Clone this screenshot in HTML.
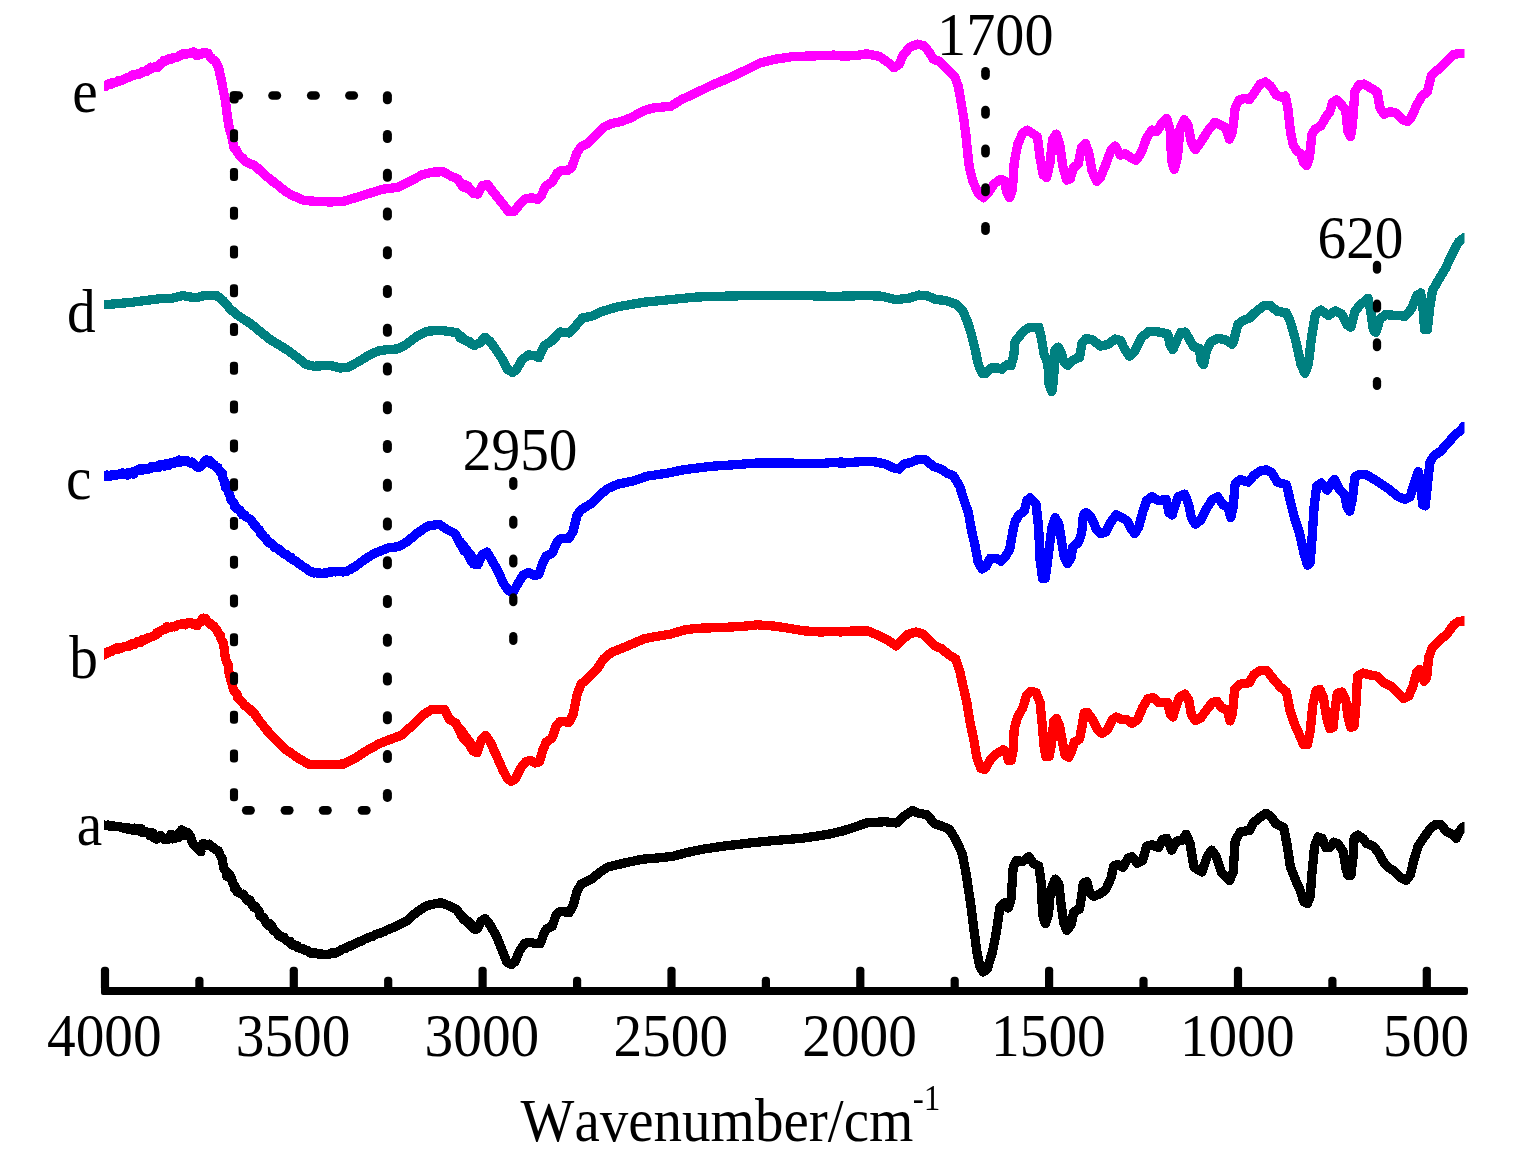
<!DOCTYPE html>
<html lang="en"><head><meta charset="utf-8"><title>FTIR spectra</title>
<style>html,body{margin:0;padding:0;background:#fff;}svg{display:block;}</style></head>
<body>
<svg width="1522" height="1159" viewBox="0 0 1522 1159" role="img" aria-label="FTIR spectra a-e versus wavenumber">
<rect x="0" y="0" width="1522" height="1159" fill="#ffffff"/>
<defs><clipPath id="plotclip"><rect x="104" y="0" width="1360.5" height="1000"/></clipPath></defs>
<g id="curves" fill="none" stroke-linejoin="round" stroke-linecap="square" shape-rendering="crispEdges" clip-path="url(#plotclip)">
<polyline points="96.1,824.0 104.1,825.1 105.3,825.6 106.9,825.5 108.0,825.1 109.5,826.2 110.5,825.5 111.8,826.4 113.4,826.0 114.3,826.2 115.9,826.3 117.7,826.6 118.9,826.6 120.5,826.9 121.3,827.7 123.6,828.1 124.9,828.1 126.6,827.9 127.0,828.8 129.0,828.1 129.8,829.3 131.5,828.3 134.2,830.8 134.1,828.1 136.7,829.8 138.2,828.5 140.1,831.3 141.5,828.8 142.1,832.6 142.1,832.2 145.1,832.2 146.5,831.9 148.9,832.7 149.7,835.5 151.1,832.7 153.8,837.9 152.6,832.9 154.2,835.5 156.5,839.3 158.8,836.9 158.2,836.4 162.4,837.0 160.4,835.4 161.9,837.2 166.9,839.5 164.8,839.4 167.2,839.7 169.0,838.3 171.1,834.2 172.5,838.9 173.5,836.2 174.8,838.8 175.1,835.3 178.8,837.5 178.5,833.6 181.9,831.7 183.4,835.1 181.5,829.8 183.9,831.1 187.1,835.3 188.3,833.0 188.5,835.7 190.7,836.9 191.6,841.1 194.4,845.8 197.4,847.5 197.0,848.5 200.9,851.9 200.7,846.5 203.3,843.2 204.7,844.9 206.6,845.8 208.7,844.4 209.3,844.2 212.1,847.5 214.2,848.6 213.8,847.4 216.0,850.0 218.3,850.6 220.6,856.3 222.2,858.9 223.2,865.2 223.7,868.2 227.4,872.6 226.6,876.2 229.5,874.7 231.4,877.8 232.7,883.5 234.9,885.4 234.6,888.3 237.5,890.5 237.5,892.2 240.5,893.8 242.8,894.6 243.6,894.1 246.4,899.7 246.2,898.7 247.1,900.2 249.3,899.6 250.0,900.3 252.1,904.4 253.6,907.3 255.0,905.9 257.0,909.1 259.0,911.3 260.1,915.9 261.7,916.9 263.1,917.2 266.2,922.1 266.1,923.4 269.1,926.1 270.4,924.0 272.0,926.0 273.5,930.6 274.6,930.8 276.9,933.1 278.3,935.2 279.6,936.1 281.0,936.0 283.1,937.9 284.2,937.6 285.0,939.0 286.3,940.2 289.0,942.1 290.3,941.6 291.9,944.0 292.3,945.1 294.3,945.5 295.2,945.1 297.3,945.7 298.1,947.8 300.6,948.6 301.0,948.8 303.0,948.5 304.4,950.0 306.0,950.3 306.8,950.2 308.4,951.1 310.0,952.6 311.1,953.4 312.6,953.5 314.2,952.7 315.5,952.9 316.4,953.6 318.0,954.1 319.8,953.6 320.4,954.6 321.8,953.8 323.6,954.8 325.0,954.5 326.4,954.4 327.2,954.2 328.7,954.3 329.7,954.2 331.0,952.9 332.7,952.8 334.3,953.5 335.1,952.2 336.7,952.6 337.8,951.9 339.4,951.3 340.5,950.3 341.9,949.5 343.2,948.9 344.3,948.8 345.7,948.3 347.3,947.0 348.3,946.8 349.7,945.9 351.3,946.0 352.4,945.2 353.6,944.2 355.0,943.9 356.3,943.3 357.7,942.4 359.1,941.6 360.3,941.5 361.7,940.9 362.7,940.4 364.2,939.4 365.5,938.9 367.0,938.2 368.0,937.8 369.3,937.3 370.8,936.8 372.2,936.5 373.5,935.8 374.8,935.0 376.2,934.4 377.3,934.0 378.7,933.5 380.1,933.2 381.2,932.6 382.7,932.1 384.0,931.5 385.3,931.0 386.6,930.2 388.0,929.6 389.1,929.0 390.4,928.8 391.9,928.0 393.2,927.5 394.4,927.1 395.8,926.5 397.1,925.7 398.4,925.0 399.7,924.5 401.1,923.8 402.3,923.0 403.7,922.4 405.0,921.9 406.4,921.1 407.6,920.0 409.0,918.9 410.3,917.8 411.6,916.6 412.9,915.4 414.2,914.3 415.5,913.1 416.8,911.9 418.2,911.1 419.5,910.3 420.8,909.5 422.1,908.7 423.4,907.8 424.7,907.0 426.1,906.2 427.4,905.4 440.5,902.7 448.4,905.4 456.3,909.3 462.9,917.7 469.5,922.5 474.7,929.1 460.0,914.6 463.9,919.8 469.2,922.5 473.2,928.3 477.1,929.1 481.1,921.2 485.0,918.5 490.3,925.1 496.8,937.0 502.1,950.1 506.8,962.0 511.3,964.6 515.3,961.4 519.2,951.4 524.5,943.5 529.7,942.2 535.0,943.5 540.3,943.5 543.7,934.3 546.3,929.1 552.1,926.4 556.1,914.6 560.0,911.4 569.2,912.5 573.2,905.4 577.1,890.9 581.1,884.3 591.6,879.1 599.5,872.5 607.4,867.2 623.2,863.3 641.6,859.3 657.4,858.0 673.2,856.2 686.3,852.7 702.1,849.3 723.2,846.2 749.5,843.0 775.8,840.4 802.1,838.3 828.4,834.3 846.8,829.8 840.0,831.7 853.2,827.7 866.3,823.0 884.7,821.7 896.6,823.0 904.5,815.9 912.4,810.6 918.9,813.3 926.8,814.6 934.7,823.8 942.6,826.4 949.2,829.1 955.8,839.6 962.4,854.1 966.3,875.1 970.3,901.4 973.7,927.7 976.8,951.4 980.0,967.2 983.4,972.0 987.4,968.5 992.6,951.4 996.6,930.4 1000.0,906.7 1004.5,902.7 1008.4,908.0 1011.1,898.8 1013.2,867.2 1016.3,860.6 1022.9,861.4 1028.9,856.7 1033.4,863.3 1038.7,865.9 1041.3,883.0 1042.6,914.6 1045.3,923.8 1048.4,914.6 1050.5,890.9 1055.3,879.1 1058.9,884.3 1061.1,904.1 1063.7,922.5 1066.8,930.4 1071.1,925.1 1073.7,912.0 1079.5,909.3 1081.6,896.2 1083.4,883.0 1086.8,881.7 1090.0,893.5 1093.9,896.2 1100.5,893.5 1105.8,889.6 1111.1,877.7 1113.7,865.9 1117.6,864.6 1122.9,867.2 1128.2,858.0 1132.1,856.7 1137.4,863.3 1142.6,860.6 1146.6,846.2 1151.8,844.8 1158.4,847.5 1162.4,839.6 1166.8,838.3 1171.6,850.1 1176.8,840.9 1182.1,840.4 1186.1,834.3 1190.0,843.5 1193.9,867.2 1201.8,872.0 1207.1,856.7 1211.6,850.1 1216.3,856.7 1221.6,872.5 1229.5,880.4 1233.1,872.5 1235.2,840.9 1240.4,831.7 1249.6,830.4 1253.6,822.5 1260.2,817.2 1266.2,813.3 1271.5,817.2 1275.9,823.8 1283.8,827.7 1287.3,846.2 1290.4,867.2 1295.7,880.4 1300.4,890.9 1303.6,901.4 1307.5,903.5 1310.2,896.2 1312.0,872.5 1314.6,846.2 1318.1,837.0 1322.0,838.3 1325.9,847.5 1329.9,847.5 1333.8,842.2 1337.8,843.5 1343.1,851.4 1345.7,867.2 1347.8,875.1 1350.9,875.1 1353.1,856.7 1354.1,838.3 1357.5,835.1 1362.8,838.3 1366.7,843.5 1373.3,846.2 1378.6,852.7 1382.5,860.6 1387.8,867.2 1394.4,871.2 1400.9,877.7 1406.2,880.4 1410.2,875.1 1414.1,859.3 1418.1,846.2 1423.3,838.3 1429.9,829.1 1435.2,824.6 1440.4,824.6 1447.0,831.7 1452.3,834.3 1456.2,838.3 1460.2,830.4 1464.1,826.4 1472.1,826.4" stroke="#000000" stroke-width="9.3"/>
<polyline points="96.2,658.8 104.2,654.6 105.5,652.9 107.0,653.5 108.7,651.5 109.9,651.0 110.8,651.8 113.0,649.8 114.5,649.9 114.9,648.7 116.6,647.7 118.5,649.0 119.5,648.6 120.8,647.4 122.2,647.9 123.1,647.0 124.3,646.7 126.3,646.1 126.9,646.7 129.0,646.1 129.6,646.0 131.3,643.9 132.4,643.3 134.3,644.6 135.8,643.6 136.6,642.5 138.1,641.3 138.7,641.9 140.3,642.4 142.1,639.9 143.3,639.3 145.0,640.0 146.1,638.7 146.5,638.9 148.6,637.5 149.4,637.9 150.8,637.0 152.8,636.3 153.2,636.1 155.6,635.3 156.5,633.0 157.1,633.6 158.5,633.0 159.9,631.3 161.2,631.0 163.1,629.4 164.2,629.0 165.7,629.1 166.8,626.5 168.7,627.6 169.1,627.3 170.2,627.7 171.8,626.9 173.3,626.4 174.8,626.9 176.0,626.3 177.4,625.1 179.1,624.4 179.6,624.5 181.3,624.8 182.3,623.4 183.9,623.3 185.3,624.9 187.0,622.9 188.0,623.1 189.6,623.5 190.4,622.6 191.4,623.6 192.8,624.1 195.0,623.8 196.0,624.9 197.1,625.8 197.8,623.4 199.3,622.9 201.3,621.4 202.4,618.6 203.2,618.1 205.5,618.5 205.9,621.1 207.6,621.4 209.2,622.9 210.6,623.8 211.5,625.4 213.6,625.7 214.2,626.6 215.5,628.3 217.0,630.0 218.6,633.5 220.4,635.2 221.0,639.2 223.1,642.6 224.5,650.5 225.3,658.3 228.1,664.8 229.2,674.3 230.6,678.9 231.8,683.5 233.5,690.0 234.8,692.0 237.0,694.5 237.7,697.9 239.5,699.2 240.4,700.5 242.1,701.9 243.4,703.9 244.9,705.6 245.8,706.3 247.4,707.2 249.0,708.6 250.7,709.9 251.7,711.5 253.6,712.3 255.2,714.6 256.3,716.8 257.7,718.2 259.4,720.9 261.0,723.1 262.5,724.8 264.1,726.8 265.4,728.2 266.6,730.2 268.3,731.8 269.5,733.4 271.3,734.9 272.6,736.9 274.1,738.3 275.3,739.6 276.7,741.0 278.2,742.1 279.6,743.7 281.2,745.1 282.4,746.3 283.8,747.7 285.2,749.1 286.5,750.1 287.9,751.0 289.2,751.7 290.5,752.7 291.9,753.7 293.1,754.6 294.5,755.5 295.8,756.5 297.1,757.3 298.4,758.3 299.7,759.0 301.1,759.8 302.4,760.5 303.7,761.3 305.0,762.1 306.3,762.8 307.6,763.6 308.9,764.3 322.1,764.6 343.2,764.1 353.7,759.1 366.8,750.6 380.0,743.3 390.5,739.3 401.1,735.4 411.6,726.2 422.1,715.6 431.3,709.6 444.5,709.6 449.7,719.6 456.3,723.5 461.6,735.4 468.2,742.0 473.4,751.2 477.4,752.5 460.0,728.8 463.9,739.3 469.2,744.6 473.2,751.2 477.1,752.5 481.6,739.3 485.5,735.4 490.3,742.0 496.8,756.4 502.1,768.3 507.4,778.8 511.3,781.4 515.3,778.8 520.5,768.3 525.8,761.7 530.5,760.4 535.0,763.0 539.5,761.7 542.9,749.8 546.3,742.0 552.1,738.0 556.1,726.2 560.0,721.4 569.2,722.2 573.2,714.3 577.1,694.6 581.1,684.1 588.9,677.5 596.8,669.6 603.4,659.1 611.3,652.5 623.2,647.7 633.7,643.3 644.2,638.8 654.7,636.7 670.5,634.1 683.7,630.1 696.8,628.3 723.2,627.5 744.2,626.2 757.4,624.8 775.8,626.2 791.6,628.8 804.7,630.9 820.5,632.0 836.3,631.4 840.0,632.0 853.2,630.9 867.6,630.9 878.2,635.4 888.7,640.6 895.8,645.9 901.8,640.6 908.4,634.1 916.3,632.0 922.9,634.1 929.5,640.6 934.7,645.9 941.3,648.5 949.2,655.1 955.8,659.1 959.7,670.9 963.2,686.7 966.8,702.5 970.3,723.5 973.7,739.3 976.8,757.7 980.8,768.3 984.7,769.6 990.0,760.4 996.6,753.8 1003.2,749.8 1006.3,752.5 1008.4,760.4 1011.1,760.4 1013.2,749.8 1014.2,728.8 1017.6,717.0 1022.9,707.7 1026.3,695.9 1030.8,691.4 1036.1,692.5 1040.0,702.5 1042.1,723.5 1043.9,744.6 1045.8,756.4 1049.2,756.4 1051.8,742.0 1053.7,720.9 1056.3,718.3 1059.7,726.2 1062.4,742.0 1065.0,755.1 1068.9,757.2 1072.1,749.8 1074.2,742.0 1079.5,739.3 1082.1,726.2 1084.2,713.0 1087.4,712.5 1092.6,719.6 1097.9,730.1 1101.8,733.5 1107.1,730.1 1112.4,719.6 1116.3,717.0 1121.6,719.6 1126.8,719.6 1132.1,723.5 1137.4,719.6 1142.6,707.7 1147.9,698.5 1153.2,697.7 1158.4,702.5 1167.6,702.5 1170.3,714.3 1172.9,717.0 1175.5,707.7 1179.5,697.2 1184.7,694.1 1188.7,699.8 1191.3,714.3 1195.3,720.4 1200.5,718.3 1207.1,709.1 1212.4,702.5 1216.8,701.2 1221.6,707.7 1227.4,710.4 1230.0,720.9 1232.5,713.0 1234.6,689.3 1240.4,684.1 1249.6,682.7 1253.6,674.8 1260.2,670.4 1266.7,670.4 1273.3,678.8 1279.9,686.7 1286.5,692.0 1289.9,710.4 1294.4,723.5 1299.6,735.4 1303.6,744.6 1307.5,744.6 1310.2,731.4 1312.8,705.1 1316.2,690.6 1319.9,689.3 1323.3,697.2 1326.7,718.3 1329.9,728.8 1333.1,727.5 1335.2,707.7 1337.3,693.3 1341.7,692.0 1345.7,699.8 1348.3,718.3 1350.9,727.5 1354.1,726.2 1356.2,702.5 1357.5,676.2 1362.8,673.0 1369.4,674.8 1377.3,676.2 1383.8,682.7 1391.7,686.7 1398.3,693.3 1403.6,698.5 1408.8,695.9 1412.8,686.7 1416.7,672.2 1419.4,669.6 1422.0,673.5 1424.1,681.4 1426.7,677.5 1428.6,657.7 1432.5,647.2 1439.1,640.6 1447.0,634.1 1453.6,624.8 1458.8,621.4 1464.1,620.9 1472.1,620.9" stroke="#ff0000" stroke-width="9.3"/>
<polyline points="96.2,477.1 104.2,476.2 105.0,475.2 107.5,475.1 108.2,476.2 109.8,476.8 111.1,475.1 112.7,474.3 114.6,474.6 115.1,475.4 116.1,475.1 118.7,474.0 120.3,474.4 121.3,474.1 121.9,473.4 122.5,473.0 125.6,473.9 126.0,474.9 127.6,475.0 128.4,472.5 130.8,472.3 131.8,473.4 133.5,474.3 134.2,471.1 134.4,471.9 137.2,470.3 137.8,469.8 138.9,469.1 140.2,470.1 141.3,470.4 142.4,468.2 144.0,468.6 146.3,468.2 147.5,469.7 147.8,469.3 149.9,468.7 151.2,467.5 151.6,466.5 153.1,466.3 154.4,466.2 156.4,467.7 158.2,467.7 158.3,467.4 159.7,464.8 161.2,466.0 162.1,464.5 164.0,466.0 165.3,464.5 166.6,463.2 168.8,465.3 169.9,463.4 170.7,462.8 172.4,463.5 173.1,463.8 175.1,461.5 176.6,462.5 176.9,461.1 179.1,460.1 179.9,462.4 180.9,460.7 183.4,461.5 184.5,460.7 186.0,460.2 187.3,460.9 188.2,461.8 188.8,462.2 190.7,463.4 192.1,462.0 192.9,463.6 194.3,464.2 196.4,466.2 196.9,466.5 198.4,467.6 200.7,466.8 202.5,464.1 203.9,463.3 204.6,461.5 206.2,460.0 207.3,460.9 209.5,460.3 211.0,462.1 211.4,464.0 213.7,464.1 214.8,465.5 216.3,467.5 218.0,467.4 218.0,468.7 219.9,471.7 222.4,472.8 222.7,477.6 225.0,482.0 225.2,486.9 227.9,490.6 228.3,492.2 229.9,495.6 231.0,499.6 234.0,503.4 234.9,507.3 235.9,506.7 237.5,509.3 240.1,510.3 241.5,513.5 242.3,514.9 244.5,514.8 244.7,514.8 246.3,517.0 247.4,517.7 249.6,518.8 251.4,520.6 252.4,522.4 253.8,523.5 254.5,525.7 255.6,526.0 257.4,528.2 259.3,529.7 260.2,532.7 261.5,534.5 262.4,534.6 263.9,536.6 265.6,537.9 266.9,540.6 268.4,541.9 268.9,542.7 271.1,544.1 271.7,543.7 273.7,545.9 274.3,547.4 276.3,547.9 277.7,548.9 278.5,548.8 279.8,550.9 281.0,551.1 282.2,552.6 284.4,554.0 284.8,554.4 286.8,554.8 288.2,555.8 289.2,557.5 290.9,557.3 292.1,559.2 293.4,559.9 294.4,560.1 295.4,561.0 297.0,561.7 298.8,563.6 300.0,563.9 300.8,565.0 302.1,565.9 303.8,566.9 304.9,567.9 306.5,568.5 307.8,569.8 309.0,570.6 310.0,571.4 311.4,571.6 312.9,572.8 314.0,573.0 315.8,572.8 316.9,572.9 318.2,573.2 319.5,572.9 320.6,573.8 321.9,573.4 323.7,573.1 324.8,573.0 325.8,573.0 327.4,573.0 328.9,572.1 330.0,572.0 331.2,572.2 332.5,571.7 333.8,571.7 335.1,571.9 336.6,571.5 338.0,571.5 339.3,571.5 340.6,571.5 341.9,571.8 343.2,571.9 344.5,571.5 345.8,571.8 347.1,571.0 348.3,570.3 349.8,569.6 351.0,569.2 352.3,568.2 353.6,567.6 354.9,566.7 356.3,565.9 357.6,564.8 358.9,563.9 360.2,562.8 361.5,561.8 362.9,560.8 364.3,559.7 365.5,559.0 366.9,558.2 368.1,557.3 369.5,556.6 370.8,555.7 372.1,554.9 373.4,554.1 374.7,553.2 376.0,552.7 377.4,552.2 378.7,551.7 380.0,551.2 381.3,550.6 382.6,550.1 383.9,549.6 385.3,549.1 386.6,548.5 387.9,548.0 398.4,546.7 407.6,541.4 416.8,533.5 427.4,526.2 439.2,524.3 447.1,529.6 455.0,533.5 460.3,544.1 466.8,552.0 472.1,562.5 477.4,563.8 460.0,541.4 463.9,550.6 469.2,553.3 473.2,563.8 477.9,564.6 482.4,554.6 486.8,552.0 491.6,559.8 498.2,571.7 503.4,583.5 508.7,590.9 513.9,590.9 517.9,583.5 523.2,575.1 528.9,572.5 535.0,575.6 538.9,574.3 542.9,562.5 546.3,555.9 552.1,553.3 557.4,541.4 561.3,538.3 569.2,538.3 573.2,530.9 577.1,515.1 581.1,509.8 591.6,503.3 599.5,495.4 607.4,488.8 617.9,484.1 633.7,480.9 646.8,476.2 665.3,473.5 683.7,469.8 710.0,466.4 736.3,464.6 757.4,463.0 788.9,463.0 815.3,463.8 841.6,462.0 840.0,463.3 855.8,462.0 871.6,461.2 884.7,463.8 892.6,467.7 899.2,469.1 904.5,463.8 911.1,462.5 917.6,459.3 925.5,459.8 933.4,466.4 941.3,469.1 946.6,473.0 953.2,475.6 959.7,486.2 963.7,499.3 968.4,512.5 971.6,530.9 974.7,544.1 978.2,562.5 982.1,569.1 986.1,566.4 990.0,558.5 996.6,558.5 1001.1,561.2 1005.8,555.9 1009.7,549.3 1012.4,533.5 1015.0,521.7 1018.9,515.1 1024.2,511.2 1026.8,500.6 1030.0,498.0 1036.1,504.6 1038.7,528.3 1040.0,559.8 1042.6,578.3 1045.3,578.3 1048.4,554.6 1051.8,528.3 1055.3,517.7 1058.9,524.3 1061.6,541.4 1064.2,557.2 1067.6,563.8 1071.1,557.2 1072.9,546.7 1078.2,542.7 1081.6,533.5 1083.4,515.1 1086.1,512.5 1091.3,517.7 1096.6,529.6 1100.5,533.5 1105.8,532.2 1111.1,521.7 1116.3,514.6 1121.6,517.7 1126.8,520.4 1130.8,528.3 1134.7,533.5 1138.7,527.0 1142.6,512.5 1146.6,500.6 1151.8,496.7 1158.4,500.6 1166.3,499.3 1168.9,512.5 1172.1,515.1 1175.5,504.6 1178.2,496.7 1184.7,494.1 1188.7,504.6 1191.3,517.7 1195.3,524.3 1200.5,520.4 1205.8,509.8 1212.4,499.3 1217.6,496.7 1222.9,504.6 1228.2,507.2 1230.8,517.7 1233.1,507.2 1235.2,483.5 1240.4,479.6 1248.3,482.2 1253.6,475.6 1260.2,470.9 1266.7,469.8 1272.0,473.0 1277.3,482.2 1286.5,484.8 1289.9,499.3 1294.4,517.7 1299.6,533.5 1303.6,552.0 1307.5,565.1 1310.2,562.5 1312.0,538.8 1314.1,507.2 1316.7,486.2 1321.5,483.0 1327.3,490.1 1331.2,483.5 1334.6,479.6 1339.1,488.8 1344.4,494.1 1347.0,507.2 1349.6,511.2 1352.3,499.3 1354.9,477.0 1360.2,474.3 1365.4,474.3 1374.6,479.6 1387.8,488.3 1398.3,496.7 1404.9,499.3 1410.2,496.7 1414.1,483.5 1418.1,471.7 1420.7,480.9 1422.5,504.6 1425.2,505.9 1427.3,486.2 1429.9,462.5 1433.8,455.9 1440.4,451.4 1448.3,442.7 1454.9,434.8 1460.2,430.9 1464.1,426.2 1472.1,426.2" stroke="#0000ff" stroke-width="9.3"/>
<polyline points="96.2,305.6 104.2,304.8 132.6,302.2 158.9,298.8 172.1,298.3 182.6,295.6 190.5,297.0 197.1,297.7 203.7,295.6 216.8,295.6 223.4,300.9 230.0,308.8 236.6,314.6 251.1,324.1 269.5,339.1 287.9,350.4 298.4,358.3 306.3,364.6 314.2,366.2 330.0,365.4 340.5,368.0 348.4,367.2 358.9,361.4 369.5,354.8 380.0,350.4 398.4,348.8 406.3,344.3 416.8,336.4 427.4,331.2 440.5,330.4 456.3,332.5 464.2,339.1 469.5,341.7 474.7,345.6 460.0,337.7 467.9,341.2 474.5,345.1 479.7,343.0 485.0,337.2 490.3,341.7 496.8,350.9 502.1,358.8 507.4,369.3 512.6,372.5 516.6,369.3 521.8,360.1 528.4,354.8 533.7,355.6 538.9,357.5 544.2,345.6 550.8,341.7 556.1,336.4 560.0,332.0 569.2,333.0 575.8,325.9 582.4,318.0 591.6,316.2 602.1,311.4 617.9,306.7 644.2,302.2 670.5,299.6 696.8,297.0 723.2,296.2 749.5,295.6 802.1,295.6 828.4,296.2 840.0,296.2 866.3,295.6 882.1,296.2 895.3,299.6 908.4,298.3 918.9,295.1 926.8,295.6 936.1,299.6 945.3,300.4 955.8,304.1 962.4,310.1 967.6,322.0 971.6,335.1 975.5,350.9 978.2,364.1 982.1,373.3 986.1,373.3 991.3,368.0 997.9,368.0 1001.8,369.3 1007.1,364.6 1011.1,365.4 1013.7,356.2 1015.0,341.7 1020.3,335.1 1025.5,329.8 1029.5,327.2 1038.7,327.2 1041.3,337.7 1043.9,353.5 1047.9,364.1 1049.2,385.1 1051.8,391.7 1053.7,379.8 1054.5,350.9 1058.4,347.0 1061.1,352.2 1063.7,361.4 1067.6,365.4 1072.9,360.1 1079.5,357.5 1082.1,343.0 1086.1,338.3 1092.6,339.8 1100.5,346.2 1108.4,344.3 1115.0,339.1 1120.3,340.4 1124.2,348.3 1129.5,356.2 1134.7,350.9 1141.3,337.7 1149.2,331.2 1158.4,332.0 1167.6,333.8 1170.3,345.6 1172.9,349.6 1176.8,340.4 1180.8,332.5 1185.3,332.0 1190.0,340.4 1193.9,347.0 1199.2,348.3 1201.1,361.4 1203.7,364.6 1206.3,350.9 1211.1,341.7 1217.6,338.3 1225.5,339.8 1232.1,344.3 1233.8,340.4 1237.8,324.6 1243.1,320.6 1249.6,318.0 1256.2,311.4 1264.1,305.6 1270.7,305.6 1277.3,311.4 1286.5,312.7 1290.4,322.0 1295.7,340.4 1300.9,364.1 1304.9,373.3 1308.3,364.1 1311.5,337.7 1315.4,314.1 1320.7,310.1 1328.6,315.4 1335.2,310.9 1341.7,314.1 1347.0,324.6 1350.9,327.2 1354.9,311.4 1360.2,304.8 1368.1,298.3 1370.7,311.4 1373.3,329.8 1375.9,332.5 1379.9,319.3 1385.2,314.6 1395.7,315.4 1404.9,316.2 1411.5,308.8 1416.7,295.6 1420.7,293.0 1423.3,311.4 1424.6,329.8 1427.3,329.8 1429.9,306.2 1432.5,290.4 1437.8,281.2 1445.7,268.0 1453.6,250.9 1458.8,241.7 1464.1,237.7 1472.1,237.7" stroke="#008080" stroke-width="9.3"/>
<polyline points="96.2,88.5 104.2,85.9 106.2,86.3 106.9,85.3 108.0,84.0 109.5,84.5 110.8,84.6 112.0,82.6 113.4,83.3 115.2,82.2 116.5,82.1 118.0,80.8 119.4,80.5 120.3,81.0 122.3,80.2 123.9,79.2 124.6,78.7 125.9,78.7 126.8,77.8 128.7,77.1 129.4,77.3 130.7,76.5 132.2,74.9 133.6,74.5 134.8,75.2 136.9,74.1 138.1,73.9 139.2,74.3 140.3,73.8 142.1,73.0 142.6,71.4 143.9,71.2 146.3,71.5 147.5,69.2 148.7,69.8 150.1,69.1 150.6,67.1 152.7,68.1 154.2,67.3 155.5,66.5 156.9,67.9 157.4,66.1 159.0,66.1 160.1,63.6 161.3,64.0 162.4,63.0 163.9,60.3 165.1,61.5 167.3,59.7 167.7,60.0 169.9,58.3 170.9,59.6 172.1,58.7 173.8,57.5 174.5,57.9 176.1,57.1 177.2,57.4 178.4,56.4 180.5,55.4 180.8,54.5 182.1,53.9 183.5,54.0 185.1,54.0 186.8,54.1 188.1,53.3 189.4,53.4 190.1,53.1 191.6,53.1 193.4,52.0 194.4,53.0 195.5,52.9 196.6,55.4 198.7,55.0 199.9,53.9 201.3,54.4 202.7,52.7 204.3,52.8 204.5,52.4 206.3,52.8 207.8,53.2 209.2,55.3 209.7,56.4 211.3,57.8 213.1,59.9 214.6,60.1 216.1,62.3 217.6,65.5 218.7,67.7 220.2,75.4 221.6,80.9 223.2,90.0 225.3,100.0 226.5,109.8 227.6,117.4 228.6,124.9 230.5,132.2 231.6,136.2 233.0,142.7 234.0,147.9 235.9,149.4 236.8,150.8 237.8,152.8 239.6,156.0 241.5,157.3 243.1,158.5 243.9,159.6 245.6,161.7 247.5,162.0 248.2,163.1 249.7,163.5 250.8,164.4 252.7,164.8 254.0,164.9 254.7,165.9 256.6,167.2 257.4,167.9 258.7,169.3 260.5,170.8 261.7,171.7 262.7,172.9 264.1,173.9 265.3,175.4 266.7,176.4 268.2,177.7 269.6,178.7 270.9,180.2 272.2,181.2 273.6,181.7 274.8,182.7 276.1,184.0 277.5,184.9 278.8,185.9 279.9,187.0 281.2,188.4 282.7,189.2 283.9,190.1 285.3,191.0 286.5,192.0 287.9,192.8 289.2,193.6 290.6,194.6 291.8,195.2 293.1,195.8 294.4,196.3 295.8,196.8 297.1,197.5 298.4,198.1 299.7,198.6 301.1,199.2 302.4,199.8 303.7,200.4 316.8,201.4 330.0,202.0 343.2,201.4 356.3,197.5 369.5,193.3 382.6,189.3 398.4,187.2 408.9,182.0 422.1,174.8 432.6,172.2 443.2,171.7 451.1,176.2 457.6,178.8 462.9,186.7 469.5,189.3 474.7,193.3 460.0,182.7 467.9,186.2 473.2,193.3 477.9,194.1 482.4,185.4 487.6,184.6 494.2,193.3 502.1,203.0 508.7,211.7 513.9,211.7 519.2,205.1 524.5,199.3 531.1,197.7 537.6,199.3 541.6,195.1 545.5,186.2 552.1,182.0 557.4,173.0 561.3,170.4 567.9,170.4 571.8,167.0 577.1,152.5 581.1,146.7 587.6,143.3 596.8,134.1 604.7,126.7 611.3,123.5 620.5,121.7 631.1,117.7 644.2,110.4 654.7,107.7 670.5,106.4 681.1,99.8 696.8,92.5 712.6,84.8 728.4,78.3 744.2,70.9 760.0,63.0 775.8,59.1 794.2,56.4 815.3,55.9 833.7,55.1 849.5,55.9 840.0,55.9 855.8,55.6 866.3,53.8 879.5,56.4 888.7,63.0 893.9,67.7 899.2,64.3 903.2,55.1 909.7,47.2 917.6,44.1 924.2,45.9 929.5,52.5 933.4,59.1 940.0,61.7 947.9,69.6 954.5,76.2 958.4,86.7 961.1,102.5 963.7,118.3 965.8,134.1 967.6,152.5 969.5,168.3 972.9,181.4 978.2,193.3 983.4,197.7 988.7,192.0 993.9,184.1 1000.5,179.3 1004.5,180.9 1006.6,192.0 1009.7,197.7 1012.4,189.3 1014.2,163.0 1017.6,144.6 1022.9,132.7 1027.4,130.1 1033.4,134.1 1037.4,136.7 1040.0,157.7 1043.2,174.8 1046.6,177.5 1050.0,163.0 1052.6,139.3 1056.3,134.1 1059.7,144.6 1063.2,168.3 1066.8,180.1 1070.3,178.8 1073.7,167.0 1078.2,164.3 1081.6,147.2 1085.3,143.3 1088.7,152.5 1092.1,170.9 1096.6,181.4 1100.5,177.5 1105.8,164.3 1111.1,149.8 1115.0,145.9 1120.3,155.1 1125.5,153.8 1130.8,157.7 1136.1,160.4 1141.3,152.5 1146.6,138.0 1151.8,130.1 1157.1,131.4 1162.4,122.2 1166.8,118.3 1170.3,131.4 1171.6,160.4 1174.2,169.6 1177.4,157.7 1180.0,128.8 1184.2,119.6 1187.9,124.8 1191.3,142.0 1195.3,149.8 1201.8,140.6 1208.4,130.1 1215.0,122.2 1220.3,124.8 1225.5,127.5 1229.5,139.3 1232.5,131.4 1235.2,107.7 1239.1,99.8 1244.4,98.5 1249.6,99.3 1254.9,92.0 1260.2,84.1 1265.4,82.0 1270.7,86.2 1275.9,94.6 1281.2,97.2 1285.2,95.9 1287.8,107.7 1290.4,131.4 1293.1,144.6 1297.0,151.2 1300.9,153.8 1303.6,163.0 1306.7,165.6 1309.4,157.7 1312.0,134.1 1315.4,128.8 1320.7,126.2 1325.9,117.0 1329.9,111.7 1332.5,102.5 1336.5,99.8 1341.7,105.1 1345.7,110.4 1347.8,131.4 1350.4,136.7 1352.3,126.2 1354.9,92.0 1358.8,84.8 1364.1,84.1 1370.7,88.0 1377.3,92.0 1379.9,107.7 1383.8,114.3 1390.4,111.7 1395.7,113.0 1402.3,119.6 1407.5,121.4 1411.5,117.0 1416.7,105.1 1422.0,95.9 1427.3,92.0 1431.2,76.2 1436.5,70.9 1444.4,63.8 1453.6,54.3 1464.1,53.3 1472.1,53.3" stroke="#ff00ff" stroke-width="9.3"/>
</g>
<g id="dots">
<rect x="230.10" y="91.15" width="13.0" height="8.7" rx="4.3" fill="#000"/><rect x="268.20" y="91.15" width="13.0" height="8.7" rx="4.3" fill="#000"/><rect x="306.90" y="91.15" width="13.0" height="8.7" rx="4.3" fill="#000"/><rect x="345.10" y="91.15" width="13.0" height="8.7" rx="4.3" fill="#000"/>
<rect x="229.7" y="91.2" width="9" height="12.2" rx="3.4" fill="#000"/>
<rect x="229.95" y="129.30" width="8.1" height="13.0" rx="3.3" fill="#000"/><rect x="229.95" y="168.06" width="8.1" height="13.0" rx="3.3" fill="#000"/><rect x="229.95" y="206.82" width="8.1" height="13.0" rx="3.3" fill="#000"/><rect x="229.95" y="245.58" width="8.1" height="13.0" rx="3.3" fill="#000"/><rect x="229.95" y="284.34" width="8.1" height="13.0" rx="3.3" fill="#000"/><rect x="229.95" y="323.10" width="8.1" height="13.0" rx="3.3" fill="#000"/><rect x="229.95" y="361.86" width="8.1" height="13.0" rx="3.3" fill="#000"/><rect x="229.95" y="400.62" width="8.1" height="13.0" rx="3.3" fill="#000"/><rect x="229.95" y="439.38" width="8.1" height="13.0" rx="3.3" fill="#000"/><rect x="229.95" y="478.14" width="8.1" height="13.0" rx="3.3" fill="#000"/><rect x="229.95" y="516.90" width="8.1" height="13.0" rx="3.3" fill="#000"/><rect x="229.95" y="555.66" width="8.1" height="13.0" rx="3.3" fill="#000"/><rect x="229.95" y="594.42" width="8.1" height="13.0" rx="3.3" fill="#000"/><rect x="229.95" y="633.18" width="8.1" height="13.0" rx="3.3" fill="#000"/><rect x="229.95" y="671.94" width="8.1" height="13.0" rx="3.3" fill="#000"/><rect x="229.95" y="710.70" width="8.1" height="13.0" rx="3.3" fill="#000"/><rect x="229.95" y="749.46" width="8.1" height="13.0" rx="3.3" fill="#000"/><rect x="229.95" y="788.22" width="8.1" height="13.0" rx="3.3" fill="#000"/>
<rect x="382.90" y="91.20" width="9.0" height="13.0" rx="4.3" fill="#000"/><rect x="382.90" y="129.96" width="9.0" height="13.0" rx="4.3" fill="#000"/><rect x="382.90" y="168.72" width="9.0" height="13.0" rx="4.3" fill="#000"/><rect x="382.90" y="207.48" width="9.0" height="13.0" rx="4.3" fill="#000"/><rect x="382.90" y="246.24" width="9.0" height="13.0" rx="4.3" fill="#000"/><rect x="382.90" y="285.00" width="9.0" height="13.0" rx="4.3" fill="#000"/><rect x="382.90" y="323.76" width="9.0" height="13.0" rx="4.3" fill="#000"/><rect x="382.90" y="362.52" width="9.0" height="13.0" rx="4.3" fill="#000"/><rect x="382.90" y="401.28" width="9.0" height="13.0" rx="4.3" fill="#000"/><rect x="382.90" y="440.04" width="9.0" height="13.0" rx="4.3" fill="#000"/><rect x="382.90" y="478.80" width="9.0" height="13.0" rx="4.3" fill="#000"/><rect x="382.90" y="517.56" width="9.0" height="13.0" rx="4.3" fill="#000"/><rect x="382.90" y="556.32" width="9.0" height="13.0" rx="4.3" fill="#000"/><rect x="382.90" y="595.08" width="9.0" height="13.0" rx="4.3" fill="#000"/><rect x="382.90" y="633.84" width="9.0" height="13.0" rx="4.3" fill="#000"/><rect x="382.90" y="672.60" width="9.0" height="13.0" rx="4.3" fill="#000"/><rect x="382.90" y="711.36" width="9.0" height="13.0" rx="4.3" fill="#000"/><rect x="382.90" y="750.12" width="9.0" height="13.0" rx="4.3" fill="#000"/><rect x="382.90" y="788.88" width="9.0" height="13.0" rx="4.3" fill="#000"/>
<rect x="241.90" y="805.95" width="13.0" height="8.7" rx="4.3" fill="#000"/><rect x="280.60" y="805.95" width="13.0" height="8.7" rx="4.3" fill="#000"/><rect x="318.80" y="805.95" width="13.0" height="8.7" rx="4.3" fill="#000"/><rect x="357.70" y="805.95" width="13.0" height="8.7" rx="4.3" fill="#000"/>
<rect x="981.15" y="66.90" width="8.7" height="13.0" rx="4.3" fill="#000"/><rect x="981.15" y="105.66" width="8.7" height="13.0" rx="4.3" fill="#000"/><rect x="981.15" y="144.42" width="8.7" height="13.0" rx="4.3" fill="#000"/><rect x="981.15" y="183.18" width="8.7" height="13.0" rx="4.3" fill="#000"/><rect x="981.15" y="221.94" width="8.7" height="13.0" rx="4.3" fill="#000"/>
<rect x="1372.85" y="260.70" width="8.3" height="13.0" rx="4.3" fill="#000"/><rect x="1372.85" y="299.46" width="8.3" height="13.0" rx="4.3" fill="#000"/><rect x="1372.85" y="338.22" width="8.3" height="13.0" rx="4.3" fill="#000"/><rect x="1372.85" y="376.98" width="8.3" height="13.0" rx="4.3" fill="#000"/>
<rect x="509.15" y="477.00" width="8.3" height="13.0" rx="4.3" fill="#000"/><rect x="509.15" y="515.76" width="8.3" height="13.0" rx="4.3" fill="#000"/><rect x="509.15" y="554.52" width="8.3" height="13.0" rx="4.3" fill="#000"/><rect x="509.15" y="593.28" width="8.3" height="13.0" rx="4.3" fill="#000"/><rect x="509.15" y="632.04" width="8.3" height="13.0" rx="4.3" fill="#000"/>
</g>
<g id="axis" fill="#000">
<rect x="101" y="987" width="1367.0" height="8" rx="2"/>
<rect x="100.9" y="966.8" width="8.2" height="24.2" rx="3.5"/>
<rect x="195.3" y="976.8" width="8.2" height="14.2" rx="3.5"/>
<rect x="289.7" y="966.8" width="8.2" height="24.2" rx="3.5"/>
<rect x="384.1" y="976.8" width="8.2" height="14.2" rx="3.5"/>
<rect x="478.5" y="966.8" width="8.2" height="24.2" rx="3.5"/>
<rect x="573.0" y="976.8" width="8.2" height="14.2" rx="3.5"/>
<rect x="667.4" y="966.8" width="8.2" height="24.2" rx="3.5"/>
<rect x="761.8" y="976.8" width="8.2" height="14.2" rx="3.5"/>
<rect x="856.2" y="966.8" width="8.2" height="24.2" rx="3.5"/>
<rect x="950.6" y="976.8" width="8.2" height="14.2" rx="3.5"/>
<rect x="1045.0" y="966.8" width="8.2" height="24.2" rx="3.5"/>
<rect x="1139.4" y="976.8" width="8.2" height="14.2" rx="3.5"/>
<rect x="1233.9" y="966.8" width="8.2" height="24.2" rx="3.5"/>
<rect x="1328.3" y="976.8" width="8.2" height="14.2" rx="3.5"/>
<rect x="1422.7" y="966.8" width="8.2" height="24.2" rx="3.5"/>
</g>
<g id="labels">
<text id="t4000" transform="translate(104.30,1056.00) scale(0.94,1.0)" x="0" y="0" font-size="61" text-anchor="middle" font-family="'Liberation Serif', serif" fill="#000" style="font-kerning:none">4000</text>
<text id="t3500" transform="translate(293.12,1056.00) scale(0.94,1.0)" x="0" y="0" font-size="61" text-anchor="middle" font-family="'Liberation Serif', serif" fill="#000" style="font-kerning:none">3500</text>
<text id="t3000" transform="translate(481.95,1056.00) scale(0.94,1.0)" x="0" y="0" font-size="61" text-anchor="middle" font-family="'Liberation Serif', serif" fill="#000" style="font-kerning:none">3000</text>
<text id="t2500" transform="translate(670.77,1056.00) scale(0.94,1.0)" x="0" y="0" font-size="61" text-anchor="middle" font-family="'Liberation Serif', serif" fill="#000" style="font-kerning:none">2500</text>
<text id="t2000" transform="translate(859.60,1056.00) scale(0.94,1.0)" x="0" y="0" font-size="61" text-anchor="middle" font-family="'Liberation Serif', serif" fill="#000" style="font-kerning:none">2000</text>
<text id="t1500" transform="translate(1048.42,1056.00) scale(0.94,1.0)" x="0" y="0" font-size="61" text-anchor="middle" font-family="'Liberation Serif', serif" fill="#000" style="font-kerning:none">1500</text>
<text id="t1000" transform="translate(1237.25,1056.00) scale(0.94,1.0)" x="0" y="0" font-size="61" text-anchor="middle" font-family="'Liberation Serif', serif" fill="#000" style="font-kerning:none">1000</text>
<text id="t500" transform="translate(1426.07,1056.00) scale(0.94,1.0)" x="0" y="0" font-size="61" text-anchor="middle" font-family="'Liberation Serif', serif" fill="#000" style="font-kerning:none">500</text>
<text id="le" transform="translate(85.00,112.40) scale(0.94,1.0)" x="0" y="0" font-size="61" text-anchor="middle" font-family="'Liberation Serif', serif" fill="#000" style="font-kerning:none">e</text>
<text id="ld" transform="translate(81.30,332.40) scale(0.94,1.0)" x="0" y="0" font-size="61" text-anchor="middle" font-family="'Liberation Serif', serif" fill="#000" style="font-kerning:none">d</text>
<text id="lc" transform="translate(78.80,498.50) scale(0.94,1.0)" x="0" y="0" font-size="61" text-anchor="middle" font-family="'Liberation Serif', serif" fill="#000" style="font-kerning:none">c</text>
<text id="lb" transform="translate(83.50,677.50) scale(0.94,1.0)" x="0" y="0" font-size="61" text-anchor="middle" font-family="'Liberation Serif', serif" fill="#000" style="font-kerning:none">b</text>
<text id="la" transform="translate(89.50,844.50) scale(0.94,1.0)" x="0" y="0" font-size="61" text-anchor="middle" font-family="'Liberation Serif', serif" fill="#000" style="font-kerning:none">a</text>
<text id="n1700" transform="translate(995.30,54.50) scale(0.955,1.0)" x="0" y="0" font-size="61" text-anchor="middle" font-family="'Liberation Serif', serif" fill="#000" style="font-kerning:none">1700</text>
<text id="n620" transform="translate(1360.50,257.70) scale(0.94,1.0)" x="0" y="0" font-size="61" text-anchor="middle" font-family="'Liberation Serif', serif" fill="#000" style="font-kerning:none">620</text>
<text id="n2950" transform="translate(520.20,470.00) scale(0.94,1.0)" x="0" y="0" font-size="61" text-anchor="middle" font-family="'Liberation Serif', serif" fill="#000" style="font-kerning:none">2950</text>
<text id="xl" transform="translate(520.60,1141.40) scale(0.935,1.0)" x="0" y="0" font-size="61" text-anchor="start" font-family="'Liberation Serif', serif" fill="#000" style="font-kerning:none">Wavenumber/cm<tspan dx="-0.6" dy="-31.8" font-size="35.5">-1</tspan></text>
</g>
</svg>
</body></html>
